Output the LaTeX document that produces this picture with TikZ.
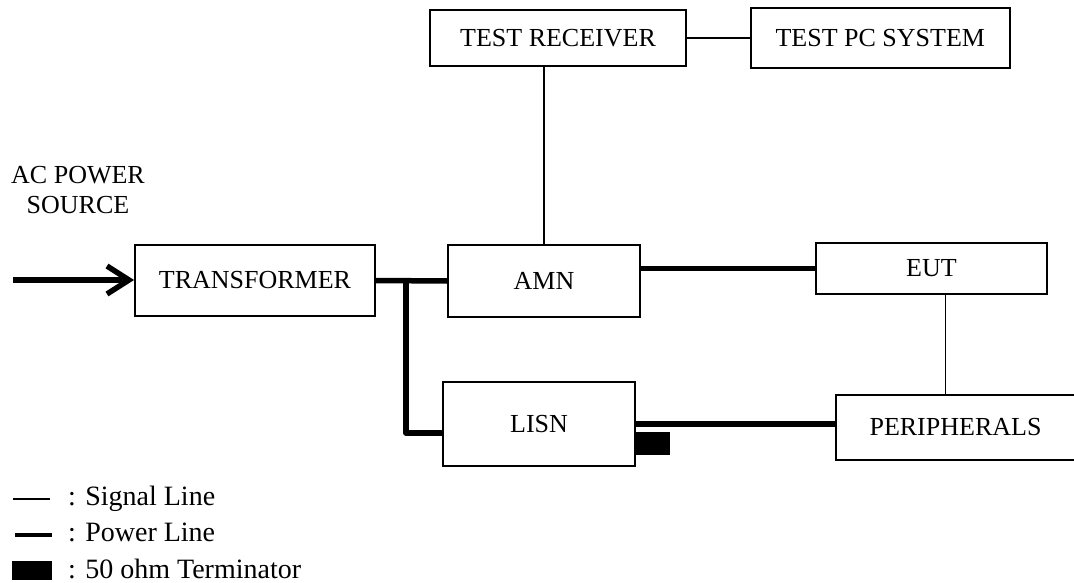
\documentclass[tikz,border=0pt]{standalone}
\usepackage{fontspec}
\setmainfont{Liberation Serif}
\usetikzlibrary{arrows.meta, positioning, calc}

\newcommand{\unitfont}{\fontsize{26}{30}\selectfont}
\newcommand{\keyfont}{\fontsize{28}{32}\selectfont}

\begin{document}
\begin{tikzpicture}[
    x=1pt, y=-1pt,
    unit/.style={rectangle, draw=black, line width=1.8pt, inner sep=0pt, align=center, font=\unitfont},
    signal/.style={line width=1.3pt},
    power/.style={line width=5.5pt, line join=round},
    feed/.style={-{Straight Barb[length=22pt, width=28pt]}, line width=5.5pt},
    key/.style={anchor=base west, inner sep=0pt, font=\keyfont}
]
\useasboundingbox (0,0) rectangle (1074,583);

% === Measurement side (Top) ===
\node[unit, minimum width=256pt, minimum height=56pt] (rcv) at (558,38) {TEST RECEIVER};
\node[unit, minimum width=259pt, minimum height=60pt, right=63pt of rcv] (pc) {TEST PC SYSTEM};

\draw[signal] (rcv.east) -- (rcv.east -| pc.west);

% === Power side (Middle) ===
\node[font=\unitfont, align=center, inner sep=0pt] (ac) at (78,190) {AC POWER\\SOURCE};
\coordinate (src) at (13,280);

\node[unit, minimum width=240pt, minimum height=71pt] (trf) at (255,280.5) {TRANSFORMER};
\node[unit, minimum width=192pt, minimum height=72pt] (amn) at (544,281) {AMN};
\node[unit, minimum width=231pt, minimum height=51pt] (eut) at (931.5,268.5) {EUT};
\node[unit, minimum width=192pt, minimum height=84pt] (lisn) at (539,424) {LISN};
\node[unit, minimum width=239pt, minimum height=65pt] (peri) at (955.5,427.5) {PERIPHERALS};

% 50 ohm load on the LISN port
\node[fill=black, inner sep=0pt, minimum width=35pt, minimum height=23pt] (load) at (652.5,443.5) {};

\draw[feed] (src) -- (src -| trf.west);
\draw[power] (trf.east) -- (amn.west);
\coordinate (tap) at ($(trf.east)!0.42!(amn.west)$);
\draw[power] (tap) |- ([yshift=-9pt]lisn.west);
\draw[power] (eut.west -| amn.east) -- (eut.west);
\draw[power] (lisn.east) -- (lisn.east -| peri.west);

\draw[signal] (amn.north) -- (amn.north |- rcv.south);
\draw[signal] ([xshift=14pt]eut.south) -- ([xshift=14pt]eut.south |- peri.north);

% === Legend (Bottom) ===
\draw[signal] (13,499) -- (50,499);
\node[key] (ksig) at (68,505) {: Signal Line};
\draw[power, line width=4.5pt] (15,535) -- (52,535);
\node[key] (kpow) at (68,541) {: Power Line};
\fill[black] (12,561) rectangle (52,580);
\node[key] (kload) at (68,578) {: 50 ohm Terminator};

\end{tikzpicture}
\end{document}
